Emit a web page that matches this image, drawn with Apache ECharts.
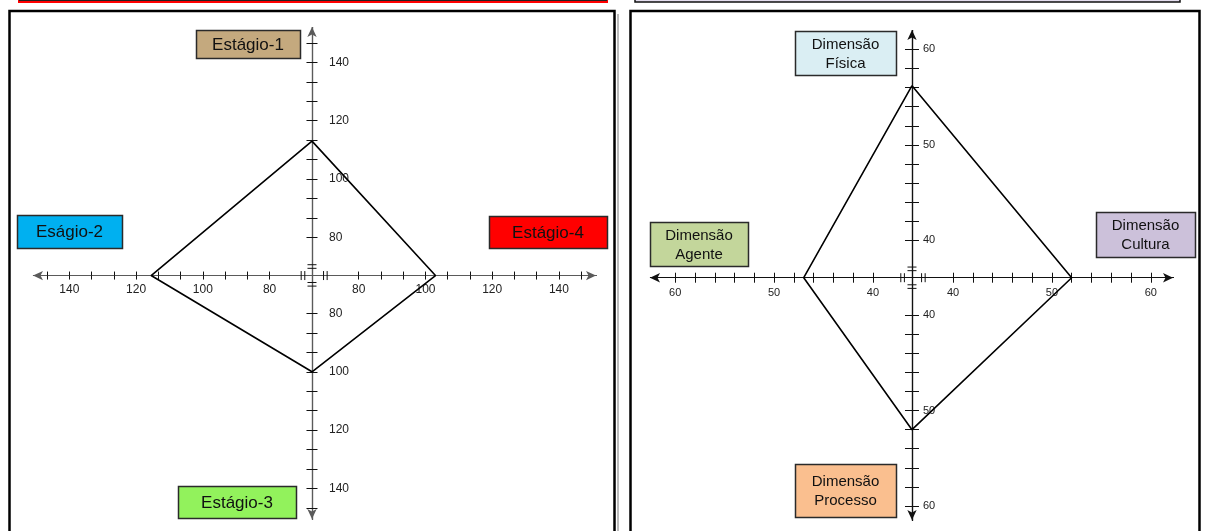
<!DOCTYPE html>
<html>
<head>
<meta charset="utf-8">
<title>Estágios e Dimensões</title>
<script src="https://cdn.jsdelivr.net/npm/echarts@6/dist/echarts.min.js"></script>
<style>
  html, body { margin: 0; padding: 0; background: #fff; }
  #chart { width: 1206px; height: 531px; }
</style>
</head>
<body>
<div id="chart"></div>
<script>
// ordem dos quatro braços: cima, esquerda, baixo, direita
const stageNames = ['Estágio-1', 'Eságio-2', 'Estágio-3', 'Estágio-4']
const stageValues = [113, 115.5, 100, 103]
const stageTickLabels = [80, 100, 120, 140]

const dimNames = ['Dimensão\nFísica', 'Dimensão\nAgente', 'Dimensão\nProcesso', 'Dimensão\nCultura']
const dimValues = [56.2, 47, 52, 52]
const dimTickLabels = [40, 50, 60]

// region layout
const FONT = "'Liberation Sans', Arial, sans-serif"

const stageBoxes = [
  { x: 196, y: 30, w: 104, h: 28, fill: '#c4a97e' },
  { x: 17, y: 215, w: 105, h: 33, fill: '#00b0f0' },
  { x: 178, y: 486, w: 118, h: 32, fill: '#92f25c' },
  { x: 489, y: 216, w: 118, h: 32, fill: '#ff0000' },
]
const dimBoxes = [
  { x: 795, y: 31, w: 101, h: 44, fill: '#daeef3' },
  { x: 650, y: 222, w: 98, h: 44, fill: '#c3d69b' },
  { x: 795, y: 464, w: 101, h: 53, fill: '#fabf8f' },
  { x: 1096, y: 212, w: 99, h: 45, fill: '#ccc1da' },
]

// eixos do painel esquerdo (quebra perto do centro)
const leftPanel = {
  grid: { left: 33, top: 27, width: 563, height: 492 },
  x: { min: -150.9, max: 151.1, brk: [-67.3, 66] },
  y: { min: -150.5, max: 152.15, brk: [-67, 66.9] },
  lineColor: '#5a5a5a', tickColor: '#111',
  xTickLen: 4, yTickLen: 5.5, xMargin: 8, yMargin: 17, fontSize: 12,
  breakAt: 70,
}
const rightPanel = {
  grid: { left: 650, top: 30, width: 523, height: 490 },
  x: { min: -62.55, max: 62.25, brk: [-36.05, 35.85] },
  y: { min: -61.47, max: 62.04, brk: [-36.07, 36.07] },
  lineColor: '#111', tickColor: '#111',
  xTickLen: 5, yTickLen: 7, xMargin: 10, yMargin: 11, fontSize: 11,
  breakAt: 37,
}
// endregion

const stageTicks = []
for (let i = 0; i <= 10; i++) stageTicks.push(80 + (i * 20) / 3)
const dimTicks = []
for (let v = 40; v <= 60; v += 2) dimTicks.push(v)

const both = (arr) => arr.map((v) => -v).reverse().concat(arr)

const diamond = (v) => [
  [0, v[0]],
  [-v[1], 0],
  [0, -v[2]],
  [v[3], 0],
  [0, v[0]],
]

const makeAxes = (dim, gridIndex, panel, ticks, labels) => {
  const r = panel[dim]
  const base = {
    type: 'value',
    gridIndex,
    min: r.min,
    max: r.max,
    breaks: [{ start: r.brk[0], end: r.brk[1], gap: 0 }],
    breakArea: { show: false },
    splitLine: { show: false },
    axisTick: {
      show: true,
      customValues: both(ticks),
      length: dim === 'x' ? panel.xTickLen : panel.yTickLen,
      lineStyle: { color: panel.tickColor, width: 1 },
    },
  }
  const label = {
    show: true,
    customValues: both(labels),
    formatter: (v) => String(Math.abs(Math.round(v))),
    margin: dim === 'x' ? panel.xMargin : panel.yMargin,
    fontSize: panel.fontSize,
    fontFamily: FONT,
    color: '#222',
  }
  const main = {
    ...base,
    position: dim === 'x' ? 'bottom' : 'left',
    axisLine: {
      onZero: false,
      symbol: ['arrow', 'arrow'],
      symbolSize: [7, 10],
      lineStyle: { color: panel.lineColor, width: 1.2 },
    },
    axisLabel: dim === 'x' ? label : { show: false },
  }
  const mirror = {
    ...base,
    position: dim === 'x' ? 'top' : 'right',
    axisLine: { onZero: false, lineStyle: { color: panel.lineColor, width: 1.2 } },
    axisLabel: dim === 'y' ? label : { show: false },
  }
  return [main, mirror]
}

const chart = echarts.init(document.getElementById('chart'), null, { renderer: 'canvas' })

chart.setOption({
  animation: false,
  backgroundColor: '#fff',
  grid: [
    { ...leftPanel.grid, containLabel: false, outerBoundsMode: 'none' },
    { ...rightPanel.grid, containLabel: false, outerBoundsMode: 'none' },
  ],
  xAxis: [
    ...makeAxes('x', 0, leftPanel, stageTicks, stageTickLabels),
    ...makeAxes('x', 1, rightPanel, dimTicks, dimTickLabels),
  ],
  yAxis: [
    ...makeAxes('y', 0, leftPanel, stageTicks, stageTickLabels),
    ...makeAxes('y', 1, rightPanel, dimTicks, dimTickLabels),
  ],
  series: [
    {
      name: 'Estágios',
      type: 'line',
      xAxisIndex: 0,
      yAxisIndex: 0,
      data: diamond(stageValues),
      symbol: 'none',
      lineStyle: { color: '#000', width: 1.6 },
      z: 5,
    },
    {
      name: 'Dimensões',
      type: 'line',
      xAxisIndex: 2,
      yAxisIndex: 2,
      data: diamond(dimValues),
      symbol: 'none',
      lineStyle: { color: '#000', width: 1.6 },
      z: 5,
    },
  ],
})

// move os eixos para a origem (0,0) de cada painel com offset
const axisOffsets = (seriesIndex, g) => {
  const c = chart.convertToPixel({ seriesIndex }, [0, 0])
  const bottom = g.top + g.height
  const right = g.left + g.width
  return {
    x: [{ offset: c[1] - bottom }, { offset: g.top - c[1] }],
    y: [{ offset: g.left - c[0] }, { offset: c[0] - right }],
  }
}
const offL = axisOffsets(0, leftPanel.grid)
const offR = axisOffsets(1, rightPanel.grid)
chart.setOption({
  xAxis: [...offL.x, ...offR.x],
  yAxis: [...offL.y, ...offR.y],
})

// region elementos gráficos (molduras, caixas, marcas de quebra)
const graphics = []

// tiras das caixas de cima (cortadas)
graphics.push({
  type: 'rect', shape: { x: 19, y: -30, width: 588, height: 32 },
  style: { fill: '#fff', stroke: '#ff0000', lineWidth: 2 }, z: 1,
})
graphics.push({
  type: 'line', shape: { x1: 19, y1: 0.5, x2: 607, y2: 0.5 },
  style: { stroke: '#222', lineWidth: 1 }, z: 2,
})
graphics.push({
  type: 'rect', shape: { x: 635, y: -30, width: 545, height: 32 },
  style: { fill: '#e4ddee', stroke: '#111', lineWidth: 1.5 }, z: 1,
})

// molduras dos painéis
graphics.push({
  type: 'line', shape: { x1: 618, y1: 14, x2: 618, y2: 531 },
  style: { stroke: '#bbb', lineWidth: 2 }, z: 0,
})
graphics.push({
  type: 'rect', shape: { x: 9.5, y: 11, width: 605, height: 530 },
  style: { fill: null, stroke: '#000', lineWidth: 2.5 }, z: 1,
})
graphics.push({
  type: 'rect', shape: { x: 630.5, y: 11, width: 569, height: 530 },
  style: { fill: null, stroke: '#000', lineWidth: 2.5 }, z: 1,
})

const addBox = (b, text, fontSize, lineHeight) => {
  graphics.push({
    type: 'rect',
    shape: { x: b.x + 0.5, y: b.y + 0.5, width: b.w, height: b.h },
    style: { fill: b.fill, stroke: '#2a2a2a', lineWidth: 1.5 },
    z: 10,
  })
  graphics.push({
    type: 'text',
    x: b.x + b.w / 2,
    y: b.y + b.h / 2 + 1,
    style: {
      text,
      fill: '#111',
      font: fontSize + 'px ' + FONT,
      align: 'center',
      verticalAlign: 'middle',
      lineHeight,
    },
    z: 11,
  })
}
stageNames.forEach((name, i) => addBox(stageBoxes[i], name, 17, 20))
dimNames.forEach((name, i) => addBox(dimBoxes[i], name, 15, 19))

const addBreakMarks = (seriesIndex, panel) => {
  const m = panel.breakAt
  const half = 4.5
  const sep = 1.8
  const push = (x1, y1, x2, y2) =>
    graphics.push({
      type: 'line',
      shape: { x1, y1, x2, y2 },
      style: { stroke: panel.tickColor, lineWidth: 1 },
      z: 6,
    })
  ;[-m, m].forEach((v) => {
    const px = chart.convertToPixel({ seriesIndex }, [v, 0])
    push(px[0] - sep, px[1] - half, px[0] - sep, px[1] + half)
    push(px[0] + sep, px[1] - half, px[0] + sep, px[1] + half)
    const py = chart.convertToPixel({ seriesIndex }, [0, v])
    push(py[0] - half, py[1] - sep, py[0] + half, py[1] - sep)
    push(py[0] - half, py[1] + sep, py[0] + half, py[1] + sep)
  })
}
addBreakMarks(0, leftPanel)
addBreakMarks(1, rightPanel)

chart.setOption({ graphic: graphics })
// endregion
</script>
</body>
</html>
